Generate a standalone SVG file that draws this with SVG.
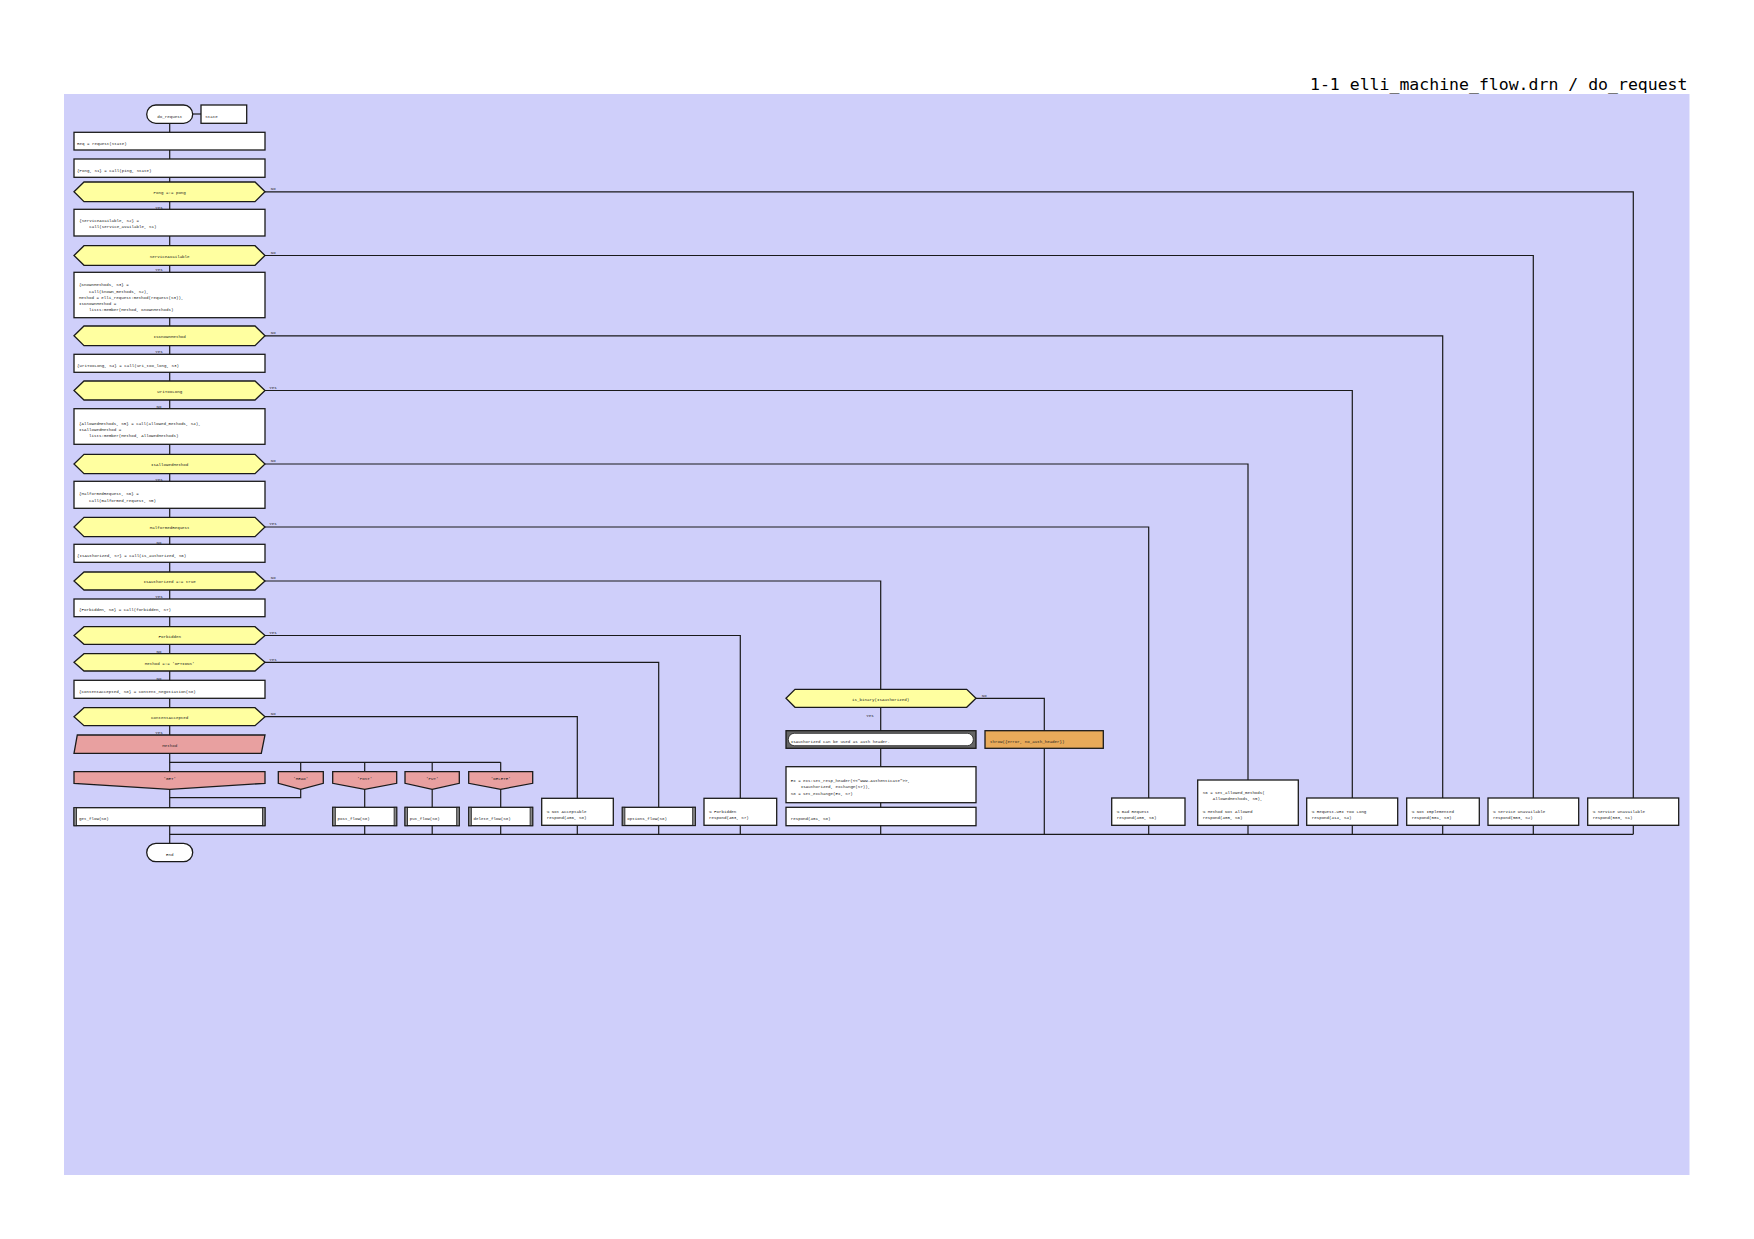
<svg xmlns="http://www.w3.org/2000/svg" width="1754" height="1239" viewBox="0 0 1754 1239">
<style>
.bg{fill:#CFCFFA}
.ln{fill:none;stroke:#1a1a1a;stroke-width:1.2}
.box{fill:#fff;stroke:#1a1a1a;stroke-width:1.3}
.dec{fill:#FFFFA0;stroke:#1a1a1a;stroke-width:1.3}
.sel{fill:#E8A0A0;stroke:#1a1a1a;stroke-width:1.3}
.thr{fill:#E8AA5A;stroke:#1a1a1a;stroke-width:1.3}
.cmt{fill:#666;stroke:#1a1a1a;stroke-width:1.3}
.bar{fill:#888;stroke:#1a1a1a;stroke-width:0.8}
text{font-family:"Liberation Mono","DejaVu Sans Mono",monospace;font-size:4.15px;fill:#222}
.c{text-anchor:middle}
.title{font-family:"DejaVu Sans Mono","Liberation Mono",monospace;font-size:16.5px;fill:#000;text-anchor:end}
</style>
<rect x="0" y="0" width="1754" height="1239" fill="#fff"/>
<rect class="bg" x="64" y="94" width="1625.5" height="1081"/>
<text class="title" x="1687.5" y="90">1-1 elli_machine_flow.drn / do_request</text>

<g id="connectors">
<path class="ln" d="M192.7,114 H201"/>
<path class="ln" d="M169.7,123.3 V843.3"/>
<path class="ln" d="M169.7,762.3 H500.7 M300.7,762.3 V771.7 M364.7,762.3 V771.7 M432.2,762.3 V771.7 M500.7,762.3 V771.7"/>
<path class="ln" d="M300.7,789.3 V797.7 H169.7"/>
<path class="ln" d="M364.7,789.3 V834.3 M432.2,789.3 V834.3 M500.7,789.3 V834.3"/>
<path class="ln" d="M169.7,834.3 H1633.3"/>
<path class="ln" d="M265,191.8 H1633.3 V834.3"/>
<path class="ln" d="M265,255.5 H1533.3 V834.3"/>
<path class="ln" d="M265,335.8 H1442.7 V834.3"/>
<path class="ln" d="M265,390.5 H1352.3 V834.3"/>
<path class="ln" d="M265,464 H1248 V834.3"/>
<path class="ln" d="M265,527 H1148.7 V834.3"/>
<path class="ln" d="M265,581 H880.7 V834.3"/>
<path class="ln" d="M265,635.5 H740.3 V834.3"/>
<path class="ln" d="M265,662.3 H658.7 V834.3"/>
<path class="ln" d="M265,716.7 H577.3 V834.3"/>
<path class="ln" d="M976,698.3 H1044.3 V834.3"/>
<text x="270.7" y="190.2">No</text>
<text class="c" x="159" y="208.5">Yes</text>
<text x="270.7" y="253.9">No</text>
<text class="c" x="159" y="271">Yes</text>
<text x="270.7" y="334.2">No</text>
<text class="c" x="159" y="353">Yes</text>
<text x="269.3" y="388.9">Yes</text>
<text class="c" x="159" y="408">No</text>
<text x="270.7" y="462.4">No</text>
<text class="c" x="159" y="481">Yes</text>
<text x="269.3" y="525.4">Yes</text>
<text class="c" x="159" y="543.5">No</text>
<text x="270.7" y="579.4">No</text>
<text class="c" x="159" y="598.3">Yes</text>
<text x="269.3" y="633.9">Yes</text>
<text class="c" x="159" y="652.5">No</text>
<text x="269.3" y="660.7">Yes</text>
<text class="c" x="159" y="679.7">No</text>
<text x="270.7" y="715.1">No</text>
<text class="c" x="159" y="734.3">Yes</text>
<text x="981.7" y="696.5">No</text>
<text class="c" x="870" y="716.5">Yes</text>
</g>

<g id="start">
<rect class="box" x="146.7" y="105" width="46" height="18.3" rx="9.15"/>
<text class="c" x="169.7" y="118.2">do_request</text>
</g>
<g id="param">
<rect class="box" x="201" y="105" width="45.7" height="18.3"/>
<text x="205.3" y="118.2">State</text>
</g>

<g id="box1">
<rect class="box" x="74" y="132.3" width="191" height="17.7"/>
<text x="77" y="144.7">Req = request(State)</text>
</g>
<g id="box2">
<rect class="box" x="74" y="159" width="191" height="18.3"/>
<text x="77" y="171.7">{Pong, S1} = call(ping, State)</text>
</g>
<g id="dec1">
<path class="dec" d="M74,191.8 L84,182 H255 L265,191.8 L255,201.7 H84 Z"/>
<text class="c" x="169.7" y="194.2">Pong =:= pong</text>
</g>
<g id="box3">
<rect class="box" x="74" y="209.3" width="191" height="26.7"/>
<text x="79.3" y="221.5">{ServiceAvailable, S2} =</text>
<text x="89.3" y="227.9">call(service_available, S1)</text>
</g>
<g id="dec2">
<path class="dec" d="M74,255.5 L84,245.7 H255 L265,255.5 L255,265.3 H84 Z"/>
<text class="c" x="169.7" y="257.8">ServiceAvailable</text>
</g>
<g id="box4">
<rect class="box" x="74" y="272.3" width="191" height="45.4"/>
<text x="79" y="286.3">{KnownMethods, S3} =</text>
<text x="89" y="292.5">call(known_methods, S2),</text>
<text x="79" y="298.8">Method = elli_request:method(request(S3)),</text>
<text x="79" y="305">IsKnownMethod =</text>
<text x="89" y="311.3">lists:member(Method, KnownMethods)</text>
</g>
<g id="dec3">
<path class="dec" d="M74,335.8 L84,326 H255 L265,335.8 L255,345.7 H84 Z"/>
<text class="c" x="169.7" y="338.1">IsKnownMethod</text>
</g>
<g id="box5">
<rect class="box" x="74" y="354.3" width="191" height="18"/>
<text x="77" y="366.8">{UriTooLong, S4} = call(uri_too_long, S3)</text>
</g>
<g id="dec4">
<path class="dec" d="M74,390.5 L84,381 H255 L265,390.5 L255,400 H84 Z"/>
<text class="c" x="169.7" y="392.8">UriTooLong</text>
</g>
<g id="box6">
<rect class="box" x="74" y="408.7" width="191" height="35.6"/>
<text x="79" y="424.5">{AllowedMethods, S5} = call(allowed_methods, S4),</text>
<text x="79" y="430.5">IsAllowedMethod =</text>
<text x="89" y="436.5">lists:member(Method, AllowedMethods)</text>
</g>
<g id="dec5">
<path class="dec" d="M74,464 L84,454.3 H255 L265,464 L255,473.7 H84 Z"/>
<text class="c" x="169.7" y="466.3">IsAllowedMethod</text>
</g>
<g id="box7">
<rect class="box" x="74" y="481.3" width="191" height="27"/>
<text x="79" y="495.2">{MalformedRequest, S6} =</text>
<text x="89" y="501.5">call(malformed_request, S5)</text>
</g>
<g id="dec6">
<path class="dec" d="M74,527 L84,517.3 H255 L265,527 L255,536.7 H84 Z"/>
<text class="c" x="169.7" y="529.3">MalformedRequest</text>
</g>
<g id="box8">
<rect class="box" x="74" y="544.3" width="191" height="18"/>
<text x="77" y="556.8">{IsAuthorized, S7} = call(is_authorized, S6)</text>
</g>
<g id="dec7">
<path class="dec" d="M74,581 L84,572 H255 L265,581 L255,590 H84 Z"/>
<text class="c" x="169.7" y="583.3">IsAuthorized =:= true</text>
</g>
<g id="box9">
<rect class="box" x="74" y="599" width="191" height="17.7"/>
<text x="79" y="611.3">{Forbidden, S8} = call(forbidden, S7)</text>
</g>
<g id="dec8">
<path class="dec" d="M74,635.5 L84,626.7 H255 L265,635.5 L255,644.3 H84 Z"/>
<text class="c" x="169.7" y="637.8">Forbidden</text>
</g>
<g id="dec9">
<path class="dec" d="M74,662.3 L84,653.7 H255 L265,662.3 L255,671 H84 Z"/>
<text class="c" x="169.7" y="664.6">Method =:= 'OPTIONS'</text>
</g>
<g id="box10">
<rect class="box" x="74" y="680.3" width="191" height="18"/>
<text x="79" y="692.8">{ContentAccepted, S8} = content_negotiation(S8)</text>
</g>
<g id="dec10">
<path class="dec" d="M74,716.7 L84,707.7 H255 L265,716.7 L255,725.7 H84 Z"/>
<text class="c" x="169.7" y="719">ContentAccepted</text>
</g>
<g id="select">
<path class="sel" d="M77.3,735 H265 L261.3,753.3 H74 Z"/>
<text class="c" x="169.7" y="747.2">Method</text>
</g>
<g id="case_get">
<path class="sel" d="M74,771.7 H265 V783.3 L169.7,789.3 L74,783.3 Z"/>
<text class="c" x="169.7" y="780.2">'GET'</text>
</g>
<g id="case_head">
<path class="sel" d="M278.3,771.7 H323.3 V783.3 L300.7,789.3 L278.3,783.3 Z"/>
<text class="c" x="300.7" y="780.4">'HEAD'</text>
</g>
<g id="case_post">
<path class="sel" d="M332.7,771.7 H396.7 V783.3 L364.7,789.3 L332.7,783.3 Z"/>
<text class="c" x="364.7" y="780.4">'POST'</text>
</g>
<g id="case_put">
<path class="sel" d="M405,771.7 H459.3 V783.3 L432.2,789.3 L405,783.3 Z"/>
<text class="c" x="432.2" y="780.4">'PUT'</text>
</g>
<g id="case_delete">
<path class="sel" d="M468.7,771.7 H532.7 V783.3 L500.7,789.3 L468.7,783.3 Z"/>
<text class="c" x="500.7" y="780.4">'DELETE'</text>
</g>

<g id="get_flow">
<rect class="box" x="74" y="807.7" width="191" height="18"/>
<rect class="bar" x="74" y="807.7" width="2.6" height="18"/>
<rect class="bar" x="262.4" y="807.7" width="2.6" height="18"/>
<text x="79" y="819.8">get_flow(S8)</text>
</g>
<g id="post_flow">
<rect class="box" x="332.7" y="807.3" width="64" height="18.4"/>
<rect class="bar" x="332.7" y="807.3" width="2.6" height="18.4"/>
<rect class="bar" x="394.1" y="807.3" width="2.6" height="18.4"/>
<text x="337.5" y="819.8">post_flow(S8)</text>
</g>
<g id="put_flow">
<rect class="box" x="405" y="807.3" width="54.3" height="18.4"/>
<rect class="bar" x="405" y="807.3" width="2.6" height="18.4"/>
<rect class="bar" x="456.7" y="807.3" width="2.6" height="18.4"/>
<text x="409.8" y="819.8">put_flow(S8)</text>
</g>
<g id="delete_flow">
<rect class="box" x="468.7" y="807.3" width="64" height="18.4"/>
<rect class="bar" x="468.7" y="807.3" width="2.6" height="18.4"/>
<rect class="bar" x="530.1" y="807.3" width="2.6" height="18.4"/>
<text x="473.5" y="819.8">delete_flow(S8)</text>
</g>
<g id="not_acceptable">
<rect class="box" x="541.7" y="798.3" width="71.6" height="27"/>
<text x="546.7" y="812.5">% Not Acceptable</text>
<text x="546.7" y="818.5">respond(406, S8)</text>
</g>
<g id="options_flow">
<rect class="box" x="622.3" y="807.3" width="73" height="18.2"/>
<rect class="bar" x="622.3" y="807.3" width="2.6" height="18.2"/>
<rect class="bar" x="692.7" y="807.3" width="2.6" height="18.2"/>
<text x="627.3" y="819.6">options_flow(S8)</text>
</g>
<g id="forbidden">
<rect class="box" x="704" y="798.3" width="72.7" height="27"/>
<text x="709" y="812.5">% Forbidden</text>
<text x="709" y="818.5">respond(403, S7)</text>
</g>

<g id="is_binary">
<path class="dec" d="M786,698.3 L795,689.3 H966.7 L976,698.3 L966.7,707.3 H795 Z"/>
<text class="c" x="880.7" y="700.6">is_binary(IsAuthorized)</text>
</g>
<g id="comment">
<rect class="cmt" x="786" y="730.7" width="190" height="17.6"/>
<rect x="788.3" y="733.3" width="185" height="12.4" rx="6" fill="#fff" stroke="#1a1a1a" stroke-width="0.8"/>
<text x="790.7" y="743">IsAuthorized can be used as auth header.</text>
</g>
<g id="throw">
<rect class="thr" x="985" y="730.7" width="118.3" height="17.6"/>
<text x="990" y="743">throw({error, no_auth_header})</text>
</g>
<g id="set_header">
<rect class="box" x="786" y="766.7" width="190" height="36"/>
<text x="790.7" y="781.5">Ex = exs:set_resp_header(&lt;&lt;"WWW-Authenticate"&gt;&gt;,</text>
<text x="800.7" y="788">IsAuthorized, exchange(S7)),</text>
<text x="790.7" y="794.5">S8 = set_exchange(Ex, S7)</text>
</g>
<g id="respond401">
<rect class="box" x="786" y="807.3" width="190" height="18.4"/>
<text x="790.7" y="819.8">respond(401, S8)</text>
</g>

<g id="bad_request">
<rect class="box" x="1111.7" y="798" width="73.3" height="27.3"/>
<text x="1116.7" y="812.5">% Bad Request</text>
<text x="1116.7" y="818.5">respond(400, S6)</text>
</g>
<g id="method_not_allowed">
<rect class="box" x="1197.7" y="780" width="100.6" height="45.3"/>
<text x="1202.7" y="793.8">S6 = set_allowed_methods(</text>
<text x="1212.7" y="799.8">AllowedMethods, S5),</text>
<text x="1202.7" y="812.5">% Method Not Allowed</text>
<text x="1202.7" y="818.5">respond(405, S6)</text>
</g>
<g id="uri_too_long">
<rect class="box" x="1306.7" y="798" width="91" height="27.3"/>
<text x="1311.7" y="812.5">% Request-URI Too Long</text>
<text x="1311.7" y="818.5">respond(414, S4)</text>
</g>
<g id="not_implemented">
<rect class="box" x="1406.7" y="798" width="72.6" height="27.3"/>
<text x="1411.7" y="812.5">% Not Implemented</text>
<text x="1411.7" y="818.5">respond(501, S3)</text>
</g>
<g id="unavailable2">
<rect class="box" x="1488" y="798" width="90.7" height="27.3"/>
<text x="1493" y="812.5">% Service Unavailable</text>
<text x="1493" y="818.5">respond(503, S2)</text>
</g>
<g id="unavailable1">
<rect class="box" x="1587.7" y="798" width="91" height="27.3"/>
<text x="1592.7" y="812.5">% Service Unavailable</text>
<text x="1592.7" y="818.5">respond(503, S1)</text>
</g>

<g id="end">
<rect class="box" x="146.7" y="843.3" width="46" height="18.4" rx="9.2"/>
<text class="c" x="169.7" y="855.8">End</text>
</g>
</svg>
